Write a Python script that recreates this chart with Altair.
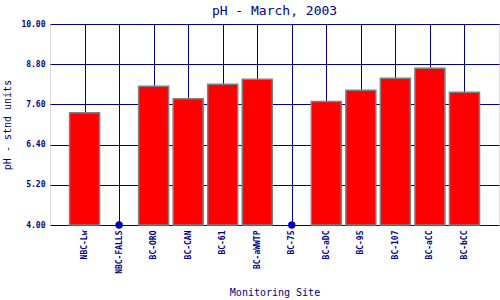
import altair as alt
import pandas as pd

sites = ["NBC-Lw", "NBC-FALLS", "BC-ORO", "BC-CAN", "BC-61", "BC-aWWTP",
         "BC-75", "BC-aDC", "BC-95", "BC-107", "BC-aCC", "BC-bCC"]
ph = [7.35, None, 8.14, 7.77, 8.20, 8.35, None, 7.69, 8.02, 8.38, 8.68, 7.96]
y_ticks = [4.0, 5.2, 6.4, 7.6, 8.8, 10.0]

NAVY = "#000080"
FONT = "DejaVu Sans Mono"

df = pd.DataFrame({"site": sites, "ph": ph})
bars_df = df.dropna()
miss_df = pd.DataFrame({"site": [s for s, v in zip(sites, ph) if v is None],
                        "ph": [4.0 for s, v in zip(sites, ph) if v is None]})

x_scale = alt.Scale(type="point", padding=1, domain=sites)
x_enc = alt.X("site:N", sort=sites, scale=x_scale,
              axis=alt.Axis(title="Monitoring Site", labelAngle=-90, labelAlign="right",
                            labelBaseline="middle", labelFont=FONT, labelFontSize=8,
                            labelFontWeight="bold", labelColor=NAVY, labelPadding=5,
                            ticks=False, domain=False, grid=True, gridColor=NAVY,
                            gridWidth=1, gridOpacity=1,
                            titleFont=FONT, titleFontSize=10, titleFontWeight="normal",
                            titleColor=NAVY, titleY=62, titleBaseline="top"))
y_enc = alt.Y("ph:Q", scale=alt.Scale(domain=[4, 10], nice=False, zero=False),
              axis=alt.Axis(title="pH - stnd units", values=y_ticks, format=".2f",
                            labelFont=FONT, labelFontSize=8, labelFontWeight="bold",
                            labelColor=NAVY, labelPadding=5, ticks=False, domain=False,
                            grid=True, gridColor=NAVY, gridWidth=1, gridOpacity=1,
                            titleFont=FONT, titleFontSize=10, titleFontWeight="normal",
                            titleColor=NAVY, titlePadding=8))

bars = alt.Chart(bars_df).mark_bar(size=30, color="#ff0000", stroke="#808080",
                                   strokeWidth=1.5).encode(x=x_enc, y=y_enc,
                                                           y2=alt.datum(4))
dots = alt.Chart(miss_df).mark_circle(size=55, color="#0000cc", opacity=1).encode(
    x=alt.X("site:N", sort=sites, scale=x_scale),
    y=alt.Y("ph:Q"))

chart = alt.layer(bars, dots).properties(
    width=449, height=201,
    title=alt.Title("pH - March, 2003", font=FONT, fontSize=13, fontWeight="normal",
                    color=NAVY, offset=2),
    autosize=alt.AutoSizeParams(type="none"),
    padding={"left": 50, "top": 24, "right": 1, "bottom": 75},
).configure_view(stroke=NAVY, strokeWidth=1.5).configure(background="white")

chart.save("out.html", embed_options={"renderer": "svg", "actions": False})
